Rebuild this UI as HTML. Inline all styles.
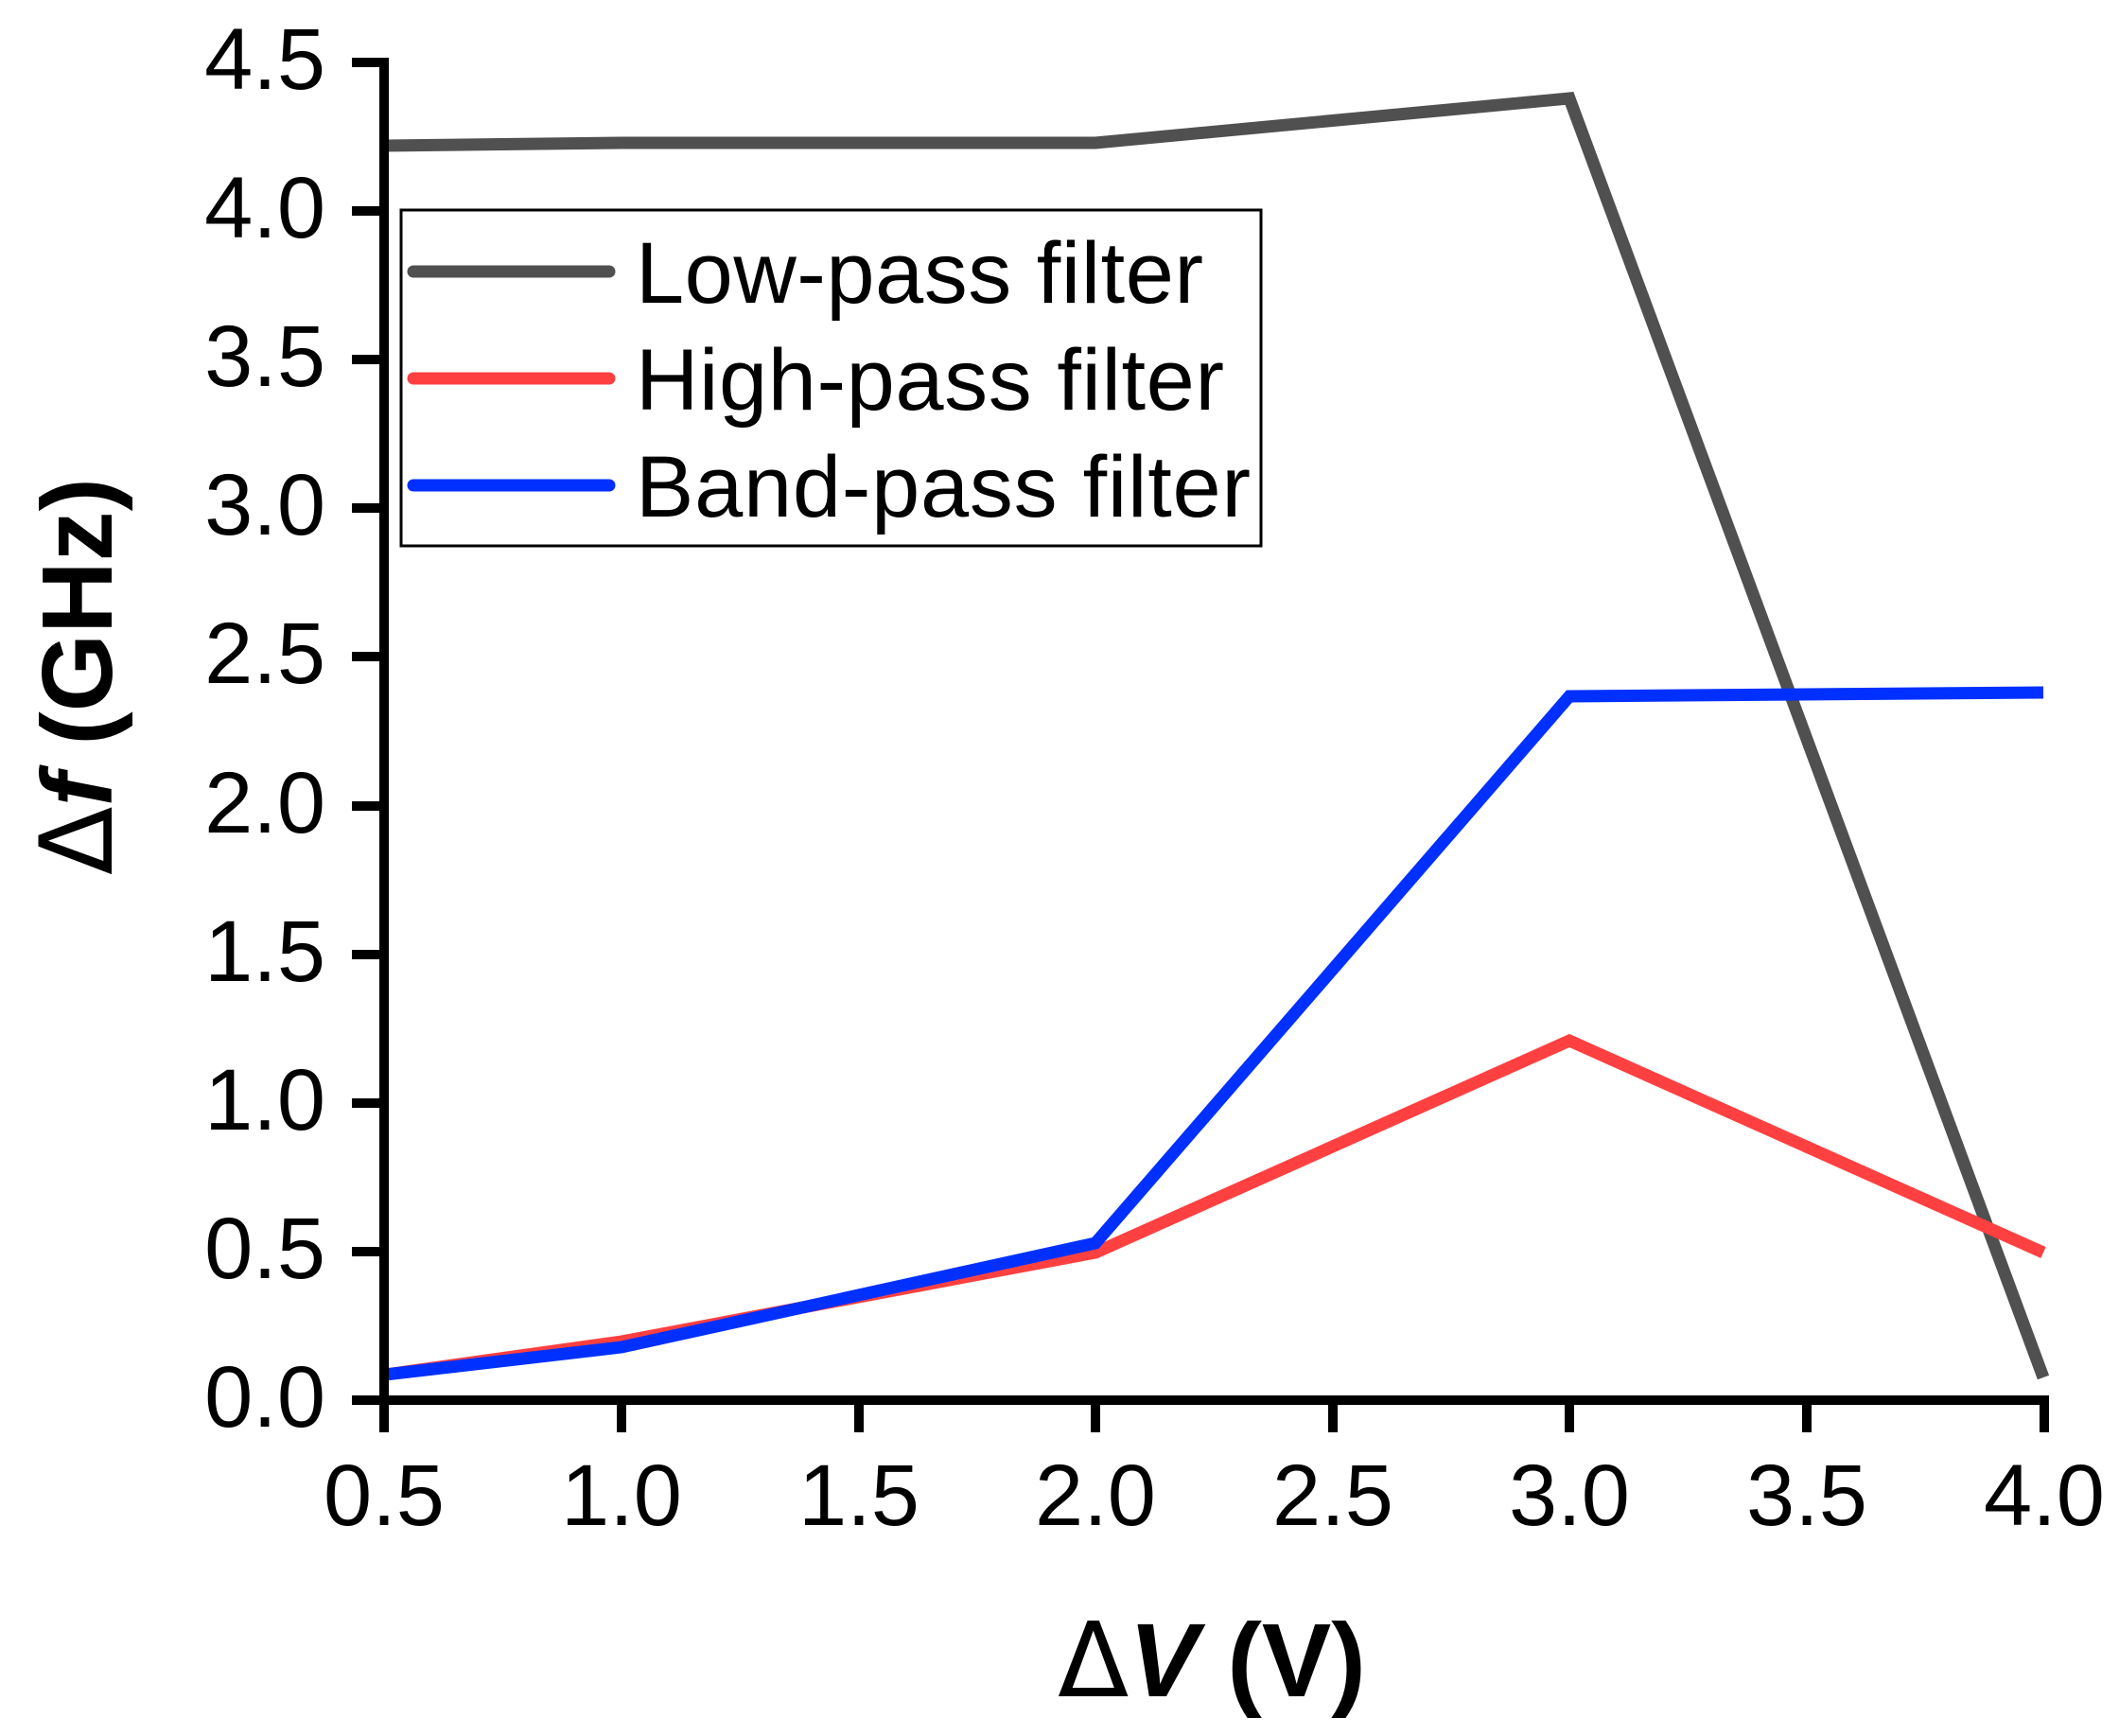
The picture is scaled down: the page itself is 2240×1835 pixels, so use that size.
<!DOCTYPE html>
<html><head><meta charset="utf-8"><style>html,body{margin:0;padding:0;background:#fff}</style></head>
<body>
<svg width="2240" height="1830" viewBox="0 0 2240 1830" xmlns="http://www.w3.org/2000/svg" font-family="Liberation Sans, sans-serif">
<rect width="2240" height="1830" fill="#fff"/>
<g fill="none" stroke-width="13" stroke-linejoin="miter">
<polyline stroke="#505050" points="407,154 657,151 1158,151 1659,104 2160,1456"/>
<polyline stroke="#ff4040" points="407,1453 657,1418 1158,1324 1659,1100 2160,1324"/>
<polyline stroke="#0030ff" points="407,1453 657,1424 1158,1314 1659,736 2160,732"/>
</g>
<g stroke="#000" stroke-width="10" fill="none">
<line x1="406" y1="61" x2="406" y2="1485"/>
<line x1="401" y1="1480" x2="2166" y2="1480"/>
<line x1="372" y1="1480" x2="406" y2="1480"/>
<line x1="372" y1="1323" x2="406" y2="1323"/>
<line x1="372" y1="1166" x2="406" y2="1166"/>
<line x1="372" y1="1009" x2="406" y2="1009"/>
<line x1="372" y1="852" x2="406" y2="852"/>
<line x1="372" y1="694" x2="406" y2="694"/>
<line x1="372" y1="537" x2="406" y2="537"/>
<line x1="372" y1="380" x2="406" y2="380"/>
<line x1="372" y1="223" x2="406" y2="223"/>
<line x1="372" y1="66" x2="406" y2="66"/>
<line x1="406" y1="1480" x2="406" y2="1514"/>
<line x1="657" y1="1480" x2="657" y2="1514"/>
<line x1="908" y1="1480" x2="908" y2="1514"/>
<line x1="1158" y1="1480" x2="1158" y2="1514"/>
<line x1="1409" y1="1480" x2="1409" y2="1514"/>
<line x1="1659" y1="1480" x2="1659" y2="1514"/>
<line x1="1910" y1="1480" x2="1910" y2="1514"/>
<line x1="2161" y1="1480" x2="2161" y2="1514"/>
</g>
<g font-size="92" fill="#000" text-anchor="end">
<text x="344" y="1508">0.0</text>
<text x="344" y="1351">0.5</text>
<text x="344" y="1194">1.0</text>
<text x="344" y="1037">1.5</text>
<text x="344" y="880">2.0</text>
<text x="344" y="722">2.5</text>
<text x="344" y="565">3.0</text>
<text x="344" y="408">3.5</text>
<text x="344" y="251">4.0</text>
<text x="344" y="94">4.5</text>
</g>
<g font-size="92" text-anchor="middle" fill="#000">
<text x="406" y="1612">0.5</text>
<text x="657" y="1612">1.0</text>
<text x="908" y="1612">1.5</text>
<text x="1158" y="1612">2.0</text>
<text x="1409" y="1612">2.5</text>
<text x="1659" y="1612">3.0</text>
<text x="1910" y="1612">3.5</text>
<text x="2161" y="1612">4.0</text>
</g>
<rect x="424" y="222" width="909" height="355" fill="#fff" stroke="#000" stroke-width="3"/>
<g stroke-width="13" stroke-linecap="round">
<line x1="437" y1="287" x2="644" y2="287" stroke="#505050"/>
<line x1="437" y1="400" x2="644" y2="400" stroke="#ff4040"/>
<line x1="437" y1="513" x2="644" y2="513" stroke="#0030ff"/>
</g>
<g font-size="92" fill="#000">
<text x="672" y="320" textLength="600">Low-pass filter</text>
<text x="672" y="433" textLength="622">High-pass filter</text>
<text x="672" y="546" textLength="650">Band-pass filter</text>
</g>
<text transform="translate(118,715) rotate(-90)" text-anchor="middle" font-size="106" font-weight="bold" fill="#000"><tspan font-weight="normal" font-family="DejaVu Sans, sans-serif">Δ</tspan><tspan font-style="italic">f</tspan> (GHz)</text>
<text x="1281" y="1793" text-anchor="middle" font-size="110" font-weight="bold" fill="#000"><tspan font-weight="normal" font-family="DejaVu Sans, sans-serif">Δ</tspan><tspan font-style="italic">V</tspan> (V)</text>
</svg>
</body></html>
